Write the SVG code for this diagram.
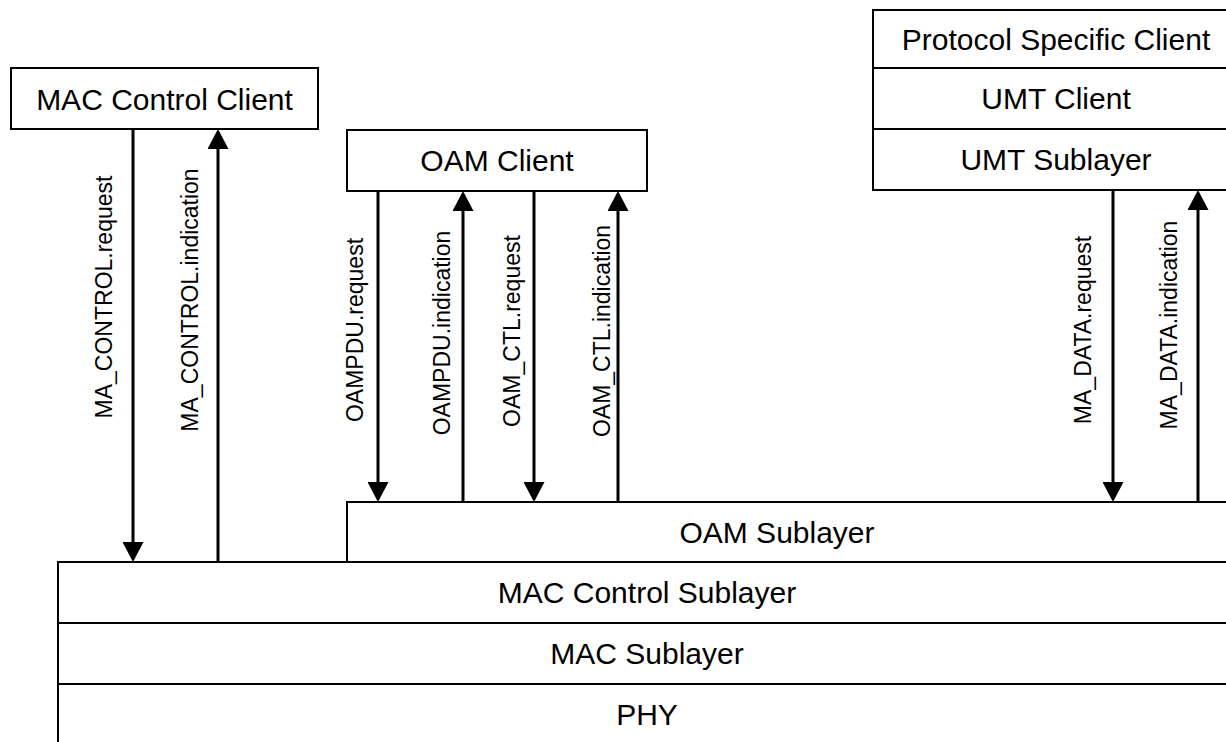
<svg xmlns="http://www.w3.org/2000/svg" width="1226" height="742" viewBox="0 0 1226 742">
<style>
.box{fill:#fff;stroke:#000;stroke-width:2}
.lbl{font-family:"Liberation Sans",Arial,sans-serif;font-size:30px;fill:#000;text-anchor:middle}
.vl{font-family:"Liberation Sans",Arial,sans-serif;font-size:23px;fill:#000;text-anchor:middle}
.arr{stroke:#000;stroke-width:3;fill:none;marker-end:url(#ah)}
</style>
<defs>
<marker id="ah" viewBox="0 0 20 21" refX="17" refY="10.5" markerWidth="20" markerHeight="21" markerUnits="userSpaceOnUse" orient="auto">
<path d="M0,0 L20,10.5 L0,21 Z" fill="#000"/>
</marker>
</defs>
<rect width="1226" height="742" fill="#fff"/>

<g id="mac-control-client">
<rect class="box" x="11" y="68" width="307" height="61"/>
<text class="lbl" x="164.5" y="109.5">MAC Control Client</text>
</g>
<g id="oam-client">
<rect class="box" x="347" y="130" width="300" height="61"/>
<text class="lbl" x="497" y="171">OAM Client</text>
</g>
<g id="protocol-specific-client">
<rect class="box" x="873" y="10" width="367" height="58"/>
<text class="lbl" x="1056" y="50">Protocol Specific Client</text>
</g>
<g id="umt-client">
<rect class="box" x="873" y="68" width="367" height="61"/>
<text class="lbl" x="1056" y="109">UMT Client</text>
</g>
<g id="umt-sublayer">
<rect class="box" x="873" y="129" width="367" height="61"/>
<text class="lbl" x="1056" y="170">UMT Sublayer</text>
</g>
<g id="oam-sublayer">
<rect class="box" x="347" y="502" width="880" height="61"/>
<text class="lbl" x="777" y="543">OAM Sublayer</text>
</g>
<g id="mac-control-sublayer">
<rect class="box" x="58" y="562" width="1180" height="61"/>
<text class="lbl" x="647" y="603">MAC Control Sublayer</text>
</g>
<g id="mac-sublayer">
<rect class="box" x="58" y="623" width="1180" height="61"/>
<text class="lbl" x="647" y="664">MAC Sublayer</text>
</g>
<g id="phy">
<rect class="box" x="58" y="684" width="1180" height="70"/>
<text class="lbl" x="647" y="725">PHY</text>
</g>

<g id="connectors">
<path class="arr" d="M133,129 V559"/>
<path class="arr" d="M218,562 V132"/>
<path class="arr" d="M378,191 V499"/>
<path class="arr" d="M463,502 V194"/>
<path class="arr" d="M534,191 V499"/>
<path class="arr" d="M618,502 V194"/>
<path class="arr" d="M1113,190 V499"/>
<path class="arr" d="M1198,502 V193"/>
<text class="vl" transform="translate(112,297) rotate(-90)">MA_CONTROL.request</text>
<text class="vl" transform="translate(198,300) rotate(-90)">MA_CONTROL.indication</text>
<text class="vl" transform="translate(363,330) rotate(-90)">OAMPDU.request</text>
<text class="vl" transform="translate(450,333) rotate(-90)">OAMPDU.indication</text>
<text class="vl" transform="translate(520,331) rotate(-90)">OAM_CTL.request</text>
<text class="vl" transform="translate(610,331) rotate(-90)">OAM_CTL.indication</text>
<text class="vl" transform="translate(1091,330) rotate(-90)">MA_DATA.request</text>
<text class="vl" transform="translate(1177,325) rotate(-90)">MA_DATA.indication</text>
</g>
</svg>
